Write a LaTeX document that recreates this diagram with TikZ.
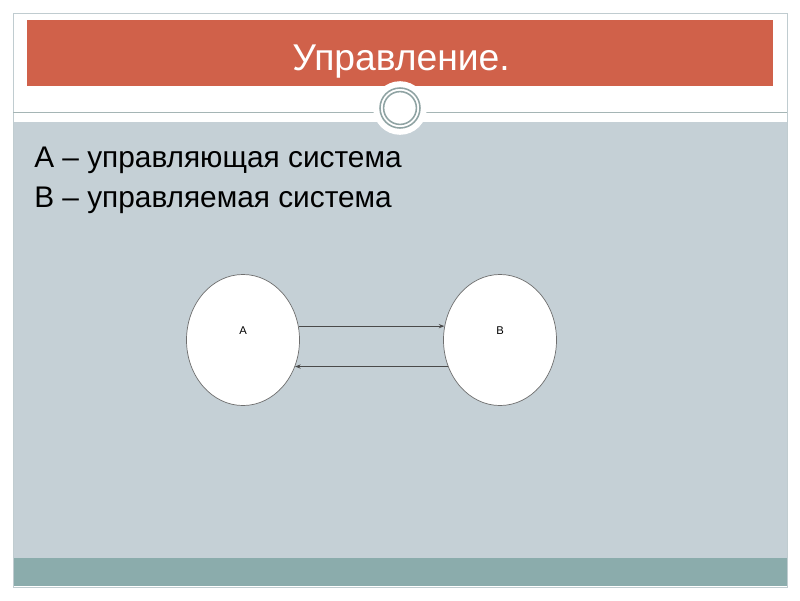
\documentclass[tikz,border=0pt]{standalone}
\usepackage{fontspec}
\setmainfont{Liberation Sans}
\usetikzlibrary{shapes.geometric,arrows.meta}
\definecolor{slidered}{HTML}{D0614A}
\definecolor{slidegray}{HTML}{C5D0D6}
\definecolor{slideteal}{HTML}{8BACAC}
\definecolor{slideframe}{HTML}{C0CCD0}
\definecolor{ringgray}{HTML}{8FA3A3}
\definecolor{inkgray}{HTML}{4A4A4A}
\tikzset{
  sysnode/.style={ellipse, draw=inkgray!80, line width=0.5pt, fill=white,
    minimum width=2.825cm, minimum height=3.275cm, inner sep=0pt},
  conn/.style={draw=inkgray, line width=0.8pt, -{Stealth[length=4pt,width=3pt]}},
  bodytext/.style={anchor=base west, inner sep=0pt, font=\fontsize{21.2}{25}\selectfont}
}
\begin{document}
\begin{tikzpicture}[x=0.025cm, y=-0.025cm]
  \useasboundingbox (0,0) rectangle (800,600);
  \fill[white] (0,0) rectangle (800,600);
  % slide body
  \fill[slidegray] (13,122) rectangle (787,558);
  \fill[slideteal] (13,558) rectangle (787,586);
  \draw[slideframe, line width=0.6pt] (13,13) rectangle (787,587);
  % title band
  \fill[slidered] (27,20) rectangle (773,86);
  \node[text=white, anchor=base, inner sep=0pt, font=\fontsize{26.5}{30}\selectfont] (title) at (401,70) {Управление.};
  \draw[ringgray!80, line width=0.6pt] (13,112) -- (787,112);
  \fill[white] (400,108) circle (0.67cm);
  \draw[ringgray, line width=1.1pt] (400,108) circle (0.5cm);
  \draw[ringgray, line width=1.1pt] (400,108) circle (0.41cm);
  % text
  \node[bodytext] (lineA) at (34,167) {А – управляющая система};
  \node[bodytext] (lineB) at (34,207) {В – управляемая система};
  % systems
  \node[sysnode, label={[font=\fontsize{8}{10}\selectfont, yshift=0.23cm]center:А}] (A) at (243,340) {};
  \node[sysnode, label={[font=\fontsize{8}{10}\selectfont, yshift=0.23cm]center:В}] (B) at (500,340) {};
  \draw[conn] (A.14) -- (B.166);
  \draw[conn] (B.-153) -- (A.-27);
\end{tikzpicture}
\end{document}
